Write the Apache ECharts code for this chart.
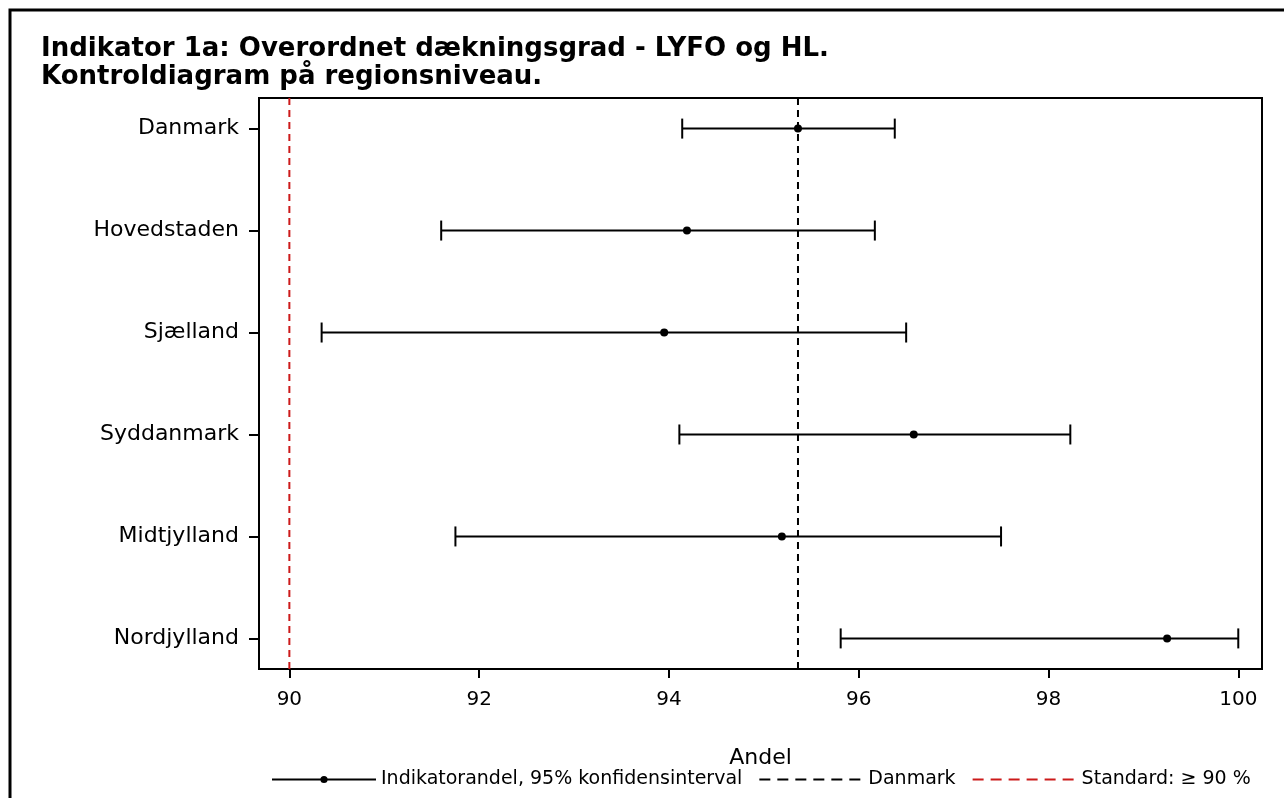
<!DOCTYPE html>
<html>
<head>
<meta charset="utf-8">
<script src="https://cdn.jsdelivr.net/npm/echarts@6/dist/echarts.min.js"></script>
<style>
  html, body { margin: 0; padding: 0; background: #fff; }
  #chart { width: 1284px; height: 798px; }
</style>
</head>
<body>
<div id="chart"></div>
<script>
// Regions, top to bottom
const regions = ['Danmark', 'Hovedstaden', 'Sjælland', 'Syddanmark', 'Midtjylland', 'Nordjylland'];
// Indicator share (%) and 95% confidence limits per region
const andel = [95.36, 94.19, 93.95, 96.58, 95.19, 99.25];
const lower = [94.14, 91.60, 90.34, 94.11, 91.75, 95.81];
const upper = [96.38, 96.17, 96.50, 98.23, 97.50, 100.00];
// Reference levels
const danmarkLevel = 95.36;
const standardLevel = 90;
// X-axis tick values
const xTicks = [90, 92, 94, 96, 98, 100];

const FONT = 'DejaVu Sans';
const yMin = -0.3, yMax = 5.3;
const DASH = [7, 5];

const idx = regions.map((_, i) => i);
const points = idx.map(i => [andel[i], i]);
const bars = idx.map(i => [lower[i], upper[i], i]);

const NAME_CI = 'Indikatorandel, 95% konfidensinterval';
const NAME_DK = 'Danmark';
const NAME_STD = 'Standard: ≥ 90 %';

const chart = echarts.init(document.getElementById('chart'), null, { renderer: 'canvas' });

chart.setOption({
  backgroundColor: '#fff',
  animation: false,
  title: {
    text: 'Indikator 1a: Overordnet dækningsgrad - LYFO og HL.\nKontroldiagram på regionsniveau.',
    left: 36,
    top: 30,
    textStyle: { fontFamily: FONT, fontSize: 26, fontWeight: 'bold', color: '#000', lineHeight: 28 }
  },
  graphic: [{
    type: 'rect',
    shape: { x: 10, y: 10, width: 1300, height: 850 },
    style: { fill: 'none', stroke: '#000', lineWidth: 3 },
    silent: true
  }],
  grid: {
    left: 259, right: 22, top: 98, bottom: 129,
    show: true, borderColor: '#000', borderWidth: 2, backgroundColor: 'transparent'
  },
  legend: {
    left: 266,
    top: 765,
    itemWidth: 104,
    itemHeight: 9,
    itemGap: 16,
    textStyle: { fontFamily: FONT, fontSize: 19, color: '#000' },
    data: [
      { name: NAME_CI, lineStyle: { width: 2, color: '#000', opacity: 1 } },
      { name: NAME_DK, itemStyle: { opacity: 0 }, lineStyle: { type: [11, 7] } },
      { name: NAME_STD, itemStyle: { opacity: 0 }, lineStyle: { type: [11, 7] } }
    ]
  },
  xAxis: {
    type: 'value',
    min: 89.68,
    max: 100.25,
    name: 'Andel',
    nameLocation: 'middle',
    nameGap: 78,
    nameTextStyle: { fontFamily: FONT, fontSize: 22, color: '#000' },
    axisLine: { show: true, onZero: false, lineStyle: { color: '#000', width: 2 } },
    axisTick: { show: true, length: 9, lineStyle: { color: '#000', width: 2 }, customValues: xTicks },
    axisLabel: { fontFamily: FONT, fontSize: 20, color: '#000', margin: 21, customValues: xTicks },
    splitLine: { show: false }
  },
  yAxis: {
    type: 'value',
    min: yMin,
    max: yMax,
    inverse: true,
    axisLine: { show: true, onZero: false, lineStyle: { color: '#000', width: 2 } },
    axisTick: { show: true, length: 10, lineStyle: { color: '#000', width: 2 }, customValues: idx },
    axisLabel: {
      fontFamily: FONT, fontSize: 22, color: '#000', margin: 20,
      customValues: idx,
      formatter: v => regions[Math.round(v)]
    },
    splitLine: { show: false }
  },
  series: [
    {
      name: NAME_STD,
      type: 'line',
      data: [[standardLevel, yMin], [standardLevel, yMax]],
      symbol: 'none',
      lineStyle: { color: '#cc1a1a', width: 2, type: DASH },
      itemStyle: { color: '#cc1a1a' },
      z: 1
    },
    {
      name: NAME_DK,
      type: 'line',
      data: [[danmarkLevel, yMin], [danmarkLevel, yMax]],
      symbol: 'none',
      lineStyle: { color: '#000', width: 2, type: DASH },
      itemStyle: { color: '#000' },
      z: 1
    },
    {
      // whiskers: confidence interval with end caps
      name: 'ci-whiskers',
      type: 'custom',
      data: bars,
      renderItem: function (params, api) {
        const lo = api.coord([api.value(0), api.value(2)]);
        const hi = api.coord([api.value(1), api.value(2)]);
        const cap = 10;
        const style = { stroke: '#000', lineWidth: 2, fill: 'none' };
        return {
          type: 'group',
          children: [
            { type: 'line', shape: { x1: lo[0], y1: lo[1], x2: hi[0], y2: hi[1] }, style },
            { type: 'line', shape: { x1: lo[0], y1: lo[1] - cap, x2: lo[0], y2: lo[1] + cap }, style },
            { type: 'line', shape: { x1: hi[0], y1: hi[1] - cap, x2: hi[0], y2: hi[1] + cap }, style }
          ]
        };
      },
      encode: { x: [0, 1], y: 2 },
      itemStyle: { color: '#000' },
      z: 2
    },
    {
      name: NAME_CI,
      type: 'line',
      data: points,
      symbol: 'circle',
      symbolSize: 8,
      showSymbol: true,
      lineStyle: { opacity: 0, width: 2, color: '#000' },
      itemStyle: { color: '#000' },
      z: 3
    }
  ]
});
</script>
</body>
</html>
